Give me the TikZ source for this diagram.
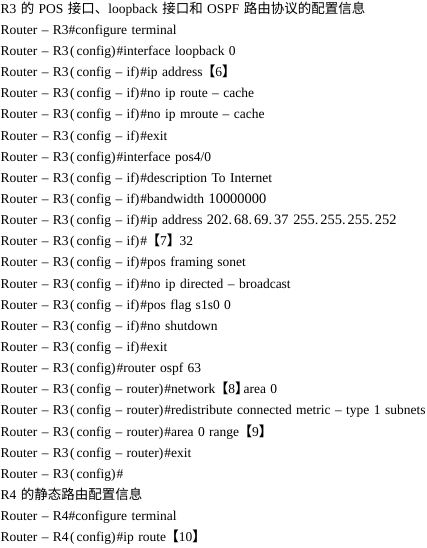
\documentclass[tikz,border=0pt]{standalone}
\usepackage{fontspec}
\setmainfont[WordSpace=1.3]{Liberation Serif}
\newfontfamily\cjk{Noto Sans CJK SC}
\newcommand\lp{\hspace{1.5pt}(\hspace{2pt}}
\newcommand\rp{)\hspace{1pt}}
\newcommand\bk[1]{{\cjk\bfseries\hspace{-5pt}【}#1{\cjk\bfseries 】\hspace{-5pt}}}
\newcommand\dt{.\hspace{2pt}}
\newcommand\nm[1]{{\fontsize{14.4pt}{15pt}\selectfont #1}}
\tikzset{ln/.style={anchor=base west, inner sep=0pt, font=\fontsize{13.5pt}{15pt}\selectfont}}
\begin{document}
\begin{tikzpicture}[x=1pt,y=1pt]
\useasboundingbox (0,0) rectangle (426,548);
\def\X{0.5}
\node[ln] (l1) at (\X,{548-13.3-0*21.14}) {R3 {\cjk 的} POS {\cjk 接口、}loopback {\cjk 接口和} OSPF {\cjk 路由协议的配置信息}};
\node[ln] (l2) at (\X,{548-13.3-1*21.14}) {Router – R3\#configure terminal};
\node[ln] (l3) at (\X,{548-13.3-2*21.14}) {Router – R3\lp config\rp\#interface loopback 0};
\node[ln] (l4) at (\X,{548-13.3-3*21.14}) {Router – R3\lp config – if\rp\#ip address \bk{6}};
\node[ln] (l5) at (\X,{548-13.3-4*21.14}) {Router – R3\lp config – if\rp\#no ip route – cache};
\node[ln] (l6) at (\X,{548-13.3-5*21.14}) {Router – R3\lp config – if\rp\#no ip mroute – cache};
\node[ln] (l7) at (\X,{548-13.3-6*21.14}) {Router – R3\lp config – if\rp\#exit};
\node[ln] (l8) at (\X,{548-13.3-7*21.14}) {Router – R3\lp config\rp\#interface pos4/0};
\node[ln] (l9) at (\X,{548-13.3-8*21.14}) {Router – R3\lp config – if\rp\#description To Internet};
\node[ln] (l10) at (\X,{548-13.3-9*21.14}) {Router – R3\lp config – if\rp\#bandwidth \nm{10000000}};
\node[ln] (l11) at (\X,{548-13.3-10*21.14}) {Router – R3\lp config – if\rp\#ip address \nm{202\dt 68\dt 69\dt 37 255\dt 255\dt 255\dt 252}};
\node[ln] (l12) at (\X,{548-13.3-11*21.14}) {Router – R3\lp config – if\rp\# \bk{7} 32};
\node[ln] (l13) at (\X,{548-13.3-12*21.14}) {Router – R3\lp config – if\rp\#pos framing sonet};
\node[ln] (l14) at (\X,{548-13.3-13*21.14}) {Router – R3\lp config – if\rp\#no ip directed – broadcast};
\node[ln] (l15) at (\X,{548-13.3-14*21.14}) {Router – R3\lp config – if\rp\#pos flag s1s0 0};
\node[ln] (l16) at (\X,{548-13.3-15*21.14}) {Router – R3\lp config – if\rp\#no shutdown};
\node[ln] (l17) at (\X,{548-13.3-16*21.14}) {Router – R3\lp config – if\rp\#exit};
\node[ln] (l18) at (\X,{548-13.3-17*21.14}) {Router – R3\lp config\rp\#router ospf 63};
\node[ln] (l19) at (\X,{548-13.3-18*21.14}) {Router – R3\lp config – router\rp\#network \bk{8}area 0};
\node[ln] (l20) at (\X,{548-13.3-19*21.14}) {Router – R3\lp config – router\rp\#redistribute connected metric – type 1 subnets};
\node[ln] (l21) at (\X,{548-13.3-20*21.14}) {Router – R3\lp config – router\rp\#area 0 range \bk{9}};
\node[ln] (l22) at (\X,{548-13.3-21*21.14}) {Router – R3\lp config – router\rp\#exit};
\node[ln] (l23) at (\X,{548-13.3-22*21.14}) {Router – R3\lp config\rp\#};
\node[ln] (l24) at (\X,{548-13.3-23*21.14}) {R4 {\cjk 的静态路由配置信息}};
\node[ln] (l25) at (\X,{548-13.3-24*21.14}) {Router – R4\#configure terminal};
\node[ln] (l26) at (\X,{548-13.3-25*21.14}) {Router – R4\lp config\rp\#ip route \bk{10}};
\end{tikzpicture}
\end{document}
